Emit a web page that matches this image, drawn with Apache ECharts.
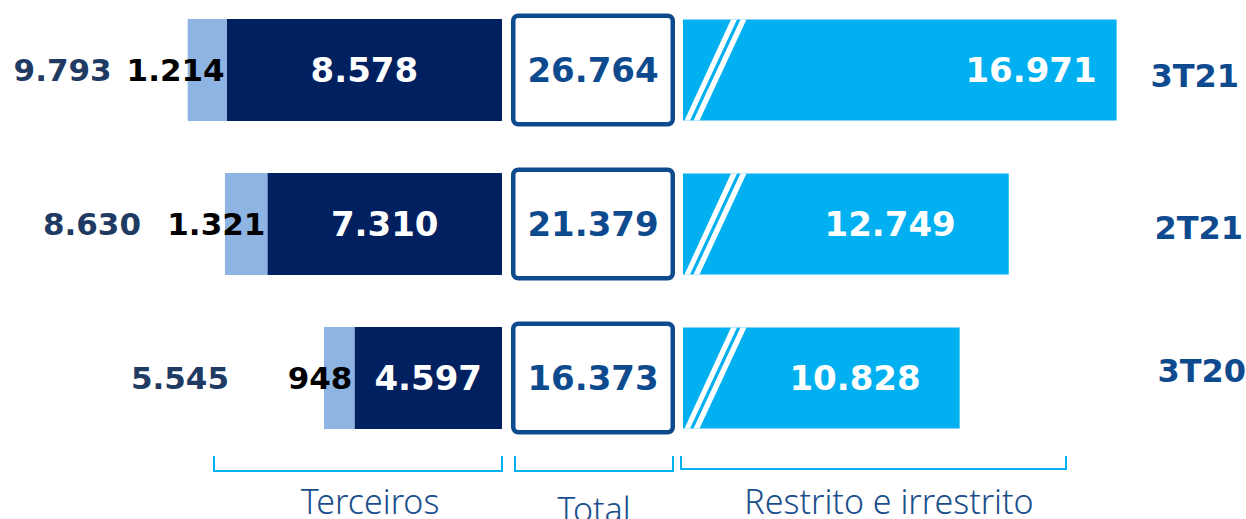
<!DOCTYPE html>
<html>
<head>
<meta charset="utf-8">
<script src="https://cdn.jsdelivr.net/npm/echarts@6/dist/echarts.min.js"></script>
<style>
    html, body { margin: 0; padding: 0; background: #fff; }
    #main { width: 1246px; height: 519px; }
</style>
</head>
<body>
<div id="main"></div>
<script>
    // dados
    var periodos = ['3T21', '2T21', '3T20'];
    var terceirosEscuro = [8578, 7310, 4597];
    var terceirosClaro = [1214, 1321, 948];
    var terceirosTotal = [9793, 8630, 5545];
    var totalGeral = [26764, 21379, 16373];
    var restrito = [16971, 12749, 10828];
    var grupos = ['Terceiros', 'Total', 'Restrito e irrestrito'];

    // distancia dos rotulos (px)
    var distTotalTerc = [76, 84, 95];
    var distRestrito = [20, 53, 39];
    // ajuste fino dos rotulos de periodo [top, right, bottom, left]
    var padPeriodo = [[12, 7, 0, 0], [8, 3, 0, 0], [0, 0, 14, 0]];

    var NUM_FONT = 'DejaVu Sans';
    var AZUL = '#0E4A8E';

    function fmt(v) {
        return String(v).replace(/\B(?=(\d{3})+(?!\d))/g, '.');
    }

    var chart = echarts.init(document.getElementById('main'), null, {renderer: 'svg'});

    var richPeriodo = {};
    periodos.forEach(function (p, i) {
        richPeriodo['p' + i] = {
            color: AZUL,
            fontFamily: NUM_FONT,
            fontWeight: 'bold',
            fontSize: 32,
            padding: padPeriodo[i]
        };
    });

    var catAxis = function (idx, show) {
        return {
            type: 'category',
            gridIndex: idx,
            data: periodos,
            inverse: true,
            boundaryGap: false,
            position: 'right',
            axisLine: {show: false},
            axisTick: {show: false},
            axisLabel: {
                show: show,
                align: 'right',
                margin: 52,
                formatter: function (v, i) { return '{p' + i + '|' + v + '}'; },
                rich: richPeriodo
            },
            splitLine: {show: false}
        };
    };
    var valAxis = function (idx, max, inverse) {
        return {
            type: 'value',
            gridIndex: idx,
            min: 0,
            max: max,
            inverse: inverse,
            show: false
        };
    };

    var numLabel = {
        fontFamily: NUM_FONT,
        fontWeight: 'bold',
        fontSize: 34
    };
    var numLabelSm = {
        fontFamily: NUM_FONT,
        fontWeight: 'bold',
        fontSize: 31
    };

    var option = {
        backgroundColor: '#fff',
        animation: false,
        grid: [
            {left: 181, right: 744, top: 70, bottom: 141, outerBoundsMode: 'none'},   // terceiros
            {left: 511, right: 571, top: 70, bottom: 141, outerBoundsMode: 'none'},   // total
            {left: 683, right: 52, top: 70, bottom: 141, outerBoundsMode: 'none'}     // restrito
        ],
        xAxis: [valAxis(0, 10000, true), valAxis(1, 1, false), valAxis(2, 20000, false)],
        yAxis: [catAxis(0, false), catAxis(1, false), catAxis(2, true)],
        series: [
            {
                name: 'Terceiros escuro',
                type: 'bar',
                stack: 'terc',
                xAxisIndex: 0, yAxisIndex: 0,
                barWidth: 102,
                barGap: '-100%',
                itemStyle: {color: '#002060'},
                label: Object.assign({show: true, position: 'inside', color: '#fff',
                    formatter: function (p) { return fmt(p.value); }}, numLabel),
                data: terceirosEscuro
            },
            {
                name: 'Terceiros claro',
                type: 'bar',
                stack: 'terc',
                xAxisIndex: 0, yAxisIndex: 0,
                barWidth: 102,
                barGap: '-100%',
                itemStyle: {color: '#8EB4E3'},
                label: Object.assign({show: true, position: 'insideRight', distance: 2, color: '#000',
                    formatter: function (p) { return fmt(p.value); }}, numLabelSm),
                data: terceirosClaro
            },
            {
                name: 'Terceiros total',
                type: 'bar',
                xAxisIndex: 0, yAxisIndex: 0,
                barWidth: 102,
                barGap: '-100%',
                z: 1,
                itemStyle: {color: 'rgba(0,0,0,0)'},
                label: Object.assign({show: true, position: 'left', color: '#1F3B63',
                    formatter: function (p) { return fmt(p.value); }}, numLabelSm),
                data: terceirosTotal.map(function (v, i) {
                    return {value: v, label: {distance: distTotalTerc[i]}};
                })
            },
            {
                name: 'Total',
                type: 'bar',
                xAxisIndex: 1, yAxisIndex: 1,
                barWidth: 113,
                itemStyle: {color: '#fff', borderColor: AZUL, borderWidth: 4.5, borderRadius: 5},
                label: Object.assign({show: true, position: 'inside', color: AZUL}, numLabel),
                data: totalGeral.map(function (v) {
                    return {value: 1, label: {formatter: fmt(v)}};
                })
            },
            {
                name: 'Restrito e irrestrito',
                type: 'bar',
                xAxisIndex: 2, yAxisIndex: 2,
                barWidth: 101,
                itemStyle: {color: '#00B0F0'},
                label: Object.assign({show: true, position: 'insideRight', color: '#fff',
                    formatter: function (p) { return fmt(p.value); }}, numLabel),
                data: restrito.map(function (v, i) {
                    return {value: v, label: {distance: distRestrito[i]}};
                })
            },
            {
                // faixas diagonais (quebra de escala)
                name: 'quebra',
                type: 'custom',
                xAxisIndex: 2, yAxisIndex: 2,
                z: 5,
                silent: true,
                renderItem: function (params, api) {
                    var p = api.coord([0, api.value(1)]);
                    var x0 = p[0], h = 101;
                    var top = p[1] - h / 2, bot = p[1] + h / 2;
                    var st = {fill: '#fff'};
                    return {
                        type: 'group',
                        children: [
                            {type: 'polygon', shape: {points: [[x0 + 48, top], [x0 + 54, top], [x0 + 7, bot], [x0 + 1.5, bot]]}, style: st},
                            {type: 'polygon', shape: {points: [[x0 + 57.5, top], [x0 + 63.5, top], [x0 + 16.5, bot], [x0 + 10.5, bot]]}, style: st}
                        ]
                    };
                },
                data: restrito.map(function (v, i) { return [v, i]; })
            }
        ],
        graphic: [
            {type: 'polyline', shape: {points: [[214, 456], [214, 471], [502, 471], [502, 456]]},
                style: {stroke: '#00B0F0', lineWidth: 2, fill: null}},
            {type: 'polyline', shape: {points: [[515, 456], [515, 471], [673, 471], [673, 456]]},
                style: {stroke: '#00B0F0', lineWidth: 2, fill: null}},
            {type: 'polyline', shape: {points: [[681, 456], [681, 469], [1066, 469], [1066, 456]]},
                style: {stroke: '#00B0F0', lineWidth: 2, fill: null}},
            {type: 'text', x: 370, y: 501, style: {text: grupos[0], fill: '#1B4F8C', font: '300 34px "Noto Sans"', lineHeight: 30, textAlign: 'center', textVerticalAlign: 'middle'}},
            {type: 'text', x: 594, y: 509, style: {text: grupos[1], fill: '#1B4F8C', font: '300 34px "Noto Sans"', lineHeight: 30, textAlign: 'center', textVerticalAlign: 'middle'}},
            {type: 'text', x: 889, y: 501, style: {text: grupos[2], fill: '#1B4F8C', font: '300 34px "Noto Sans"', lineHeight: 30, textAlign: 'center', textVerticalAlign: 'middle'}}
        ]
    };

    chart.setOption(option);
</script>
</body>
</html>
